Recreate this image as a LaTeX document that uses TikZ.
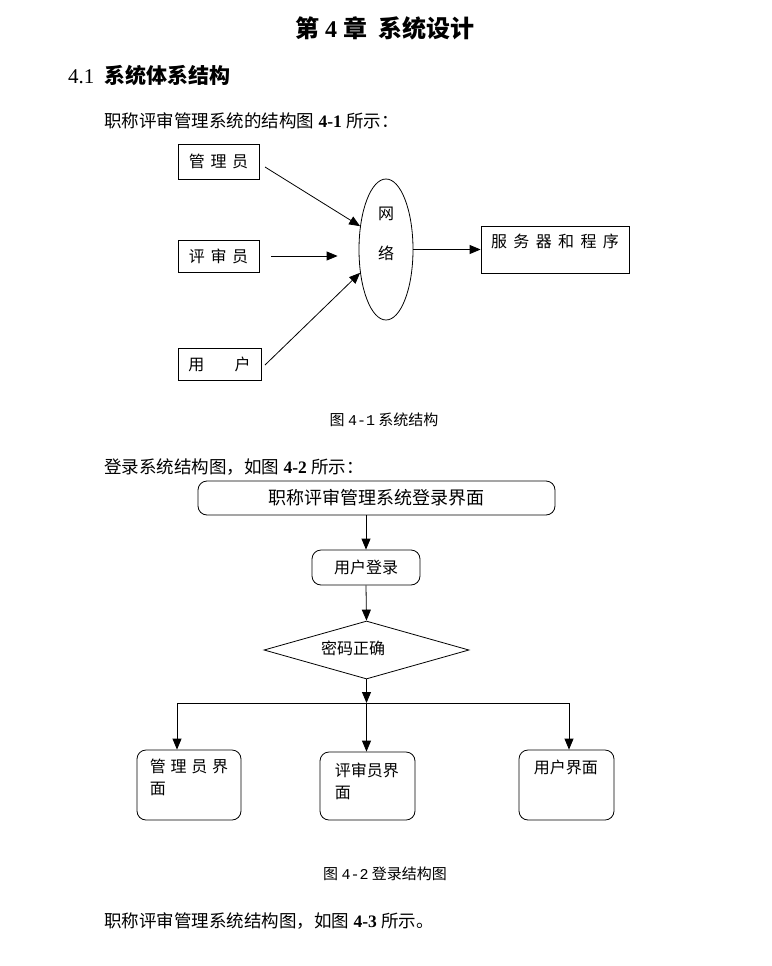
\documentclass[tikz,border=0pt]{standalone}
\usepackage{fontspec}
\setmainfont{Liberation Serif}
\newfontfamily\cjk{Noto Sans CJK SC}
\newfontfamily\capmono{Liberation Mono}
\usetikzlibrary{arrows.meta,shapes.geometric,positioning}

\begin{document}
\begin{tikzpicture}[x=1pt, y=-1pt,
  box/.style={draw, line width=0.8pt, inner sep=0pt},
  rbox/.style={box, rounded corners=9pt},
  link/.style={line width=0.8pt, -{Triangle[length=11pt,width=9pt]}},
  lbl/.style={font=\cjk\fontsize{16}{22}\selectfont, inner sep=0pt},
  body/.style={font=\fontsize{17.5}{21}\selectfont, anchor=west, inner sep=0pt},
  figcap/.style={font=\cjk\fontsize{15}{18}\selectfont, inner sep=0pt}]

\useasboundingbox (0,0) rectangle (771,966);

\node[font=\fontsize{24}{28}\selectfont\bfseries, inner sep=0pt] (title) at (385,28)
  {{\cjk\bfseries 第} 4 {\cjk\bfseries 章\hspace{0.5em}系统设计}};
\node[body, font=\fontsize{21}{25}\selectfont] (sec) at (68,75)
  {4.1\hspace{0.5em}{\cjk\bfseries 系统体系结构}};
\node[body] (intro1) at (104,121) {{\cjk 职称评审管理系统的结构图} \textbf{4-1} {\cjk 所示：}};

\node[box, minimum width=81pt, minimum height=35pt, lbl] (admin) at (218.5,161.5) {管\hspace{0.35em}理\hspace{0.35em}员};
\node[box, minimum width=81pt, minimum height=32pt, lbl] (rev) at (218.5,256) {评\hspace{0.35em}审\hspace{0.35em}员};
\node[box, minimum width=83pt, minimum height=32pt, lbl] (user) at (219.5,364) {用\hspace{1.9em}户};
\node[draw, ellipse, line width=0.8pt, minimum width=54pt, minimum height=141pt, inner sep=0pt] (net) at (386,249.5) {};
\node[lbl] (net1) at (386,214) {网};
\node[lbl] (net2) at (386,253) {络};
\node[box, minimum width=148pt, minimum height=47pt] (srv) at (555,249.5) {};
\node[lbl, anchor=north] (srvt) at ([yshift=-8pt]srv.north) {服\hspace{0.4em}务\hspace{0.4em}器\hspace{0.4em}和\hspace{0.4em}程\hspace{0.4em}序};

\coordinate (a1) at (265,167);
\coordinate (a3) at (265,365);
\draw[link] (a1) -- (net.138);
\draw[link] ([xshift=12pt]rev.east) -- ([xshift=-21pt]rev.east -| net.west);
\draw[link] (a3) -- (net.222);
\draw[link] (net.east) -- (srv.west);

\node[figcap] (cap1) at (384,420) {图 {\capmono 4-1} 系统结构};

\node[body] (intro2) at (104,467) {{\cjk 登录系统结构图，如图} \textbf{4-2} {\cjk 所示：}};

\node[rbox, minimum width=357pt, minimum height=34pt, font=\cjk\fontsize{18}{22}\selectfont] (top) at (376.5,498) {职称评审管理系统登录界面};
\node[rbox, minimum width=108pt, minimum height=35pt, lbl] (login) at (366,567.5) {用户登录};
\node[draw, diamond, line width=0.8pt, aspect=3.5, minimum width=205pt, minimum height=58pt, inner sep=0pt] (pwd) at (366.5,650) {};
\node[lbl] (pwdt) at (353,648) {密码正确};

\node[rbox, minimum width=104pt, minimum height=70pt] (mgrui) at (189,785) {};
\node[lbl, anchor=north west, align=left] (mgrt) at ([xshift=13pt,yshift=-9pt]mgrui.north west) {管\hspace{0.3em}理\hspace{0.3em}员\hspace{0.3em}界\\面};
\node[rbox, minimum width=95pt, minimum height=68pt] (revui) at (367.5,786) {};
\node[lbl, anchor=north west, align=left] (revt) at ([xshift=15pt,yshift=-11pt]revui.north west) {评审员界\\面};
\node[rbox, minimum width=95pt, minimum height=70pt] (userui) at (566.5,785) {};
\node[lbl, anchor=north west, align=left] (usert) at ([xshift=15pt,yshift=-10pt]userui.north west) {用户界面};

\coordinate (fork) at (366.5,703);
\coordinate (forkL) at (177,703);
\coordinate (forkR) at (569,703);

\draw[link] (top.south -| login.north) -- (login.north);
\draw[link] (login.south) -- (pwd.north);
\draw[link] (pwd.south) -- (fork);
\draw[line width=0.8pt] (forkL) -- (forkR);
\draw[link] (forkL) -- (forkL |- mgrui.north);
\draw[link] (fork) -- (fork |- revui.north);
\draw[link] (forkR) -- (forkR |- userui.north);

\node[figcap] (cap2) at (385,874) {图 {\capmono 4-2} 登录结构图};

\node[body] (intro3) at (104,921) {{\cjk 职称评审管理系统结构图，如图} \textbf{4-3} {\cjk 所示。}};

\end{tikzpicture}
\end{document}
